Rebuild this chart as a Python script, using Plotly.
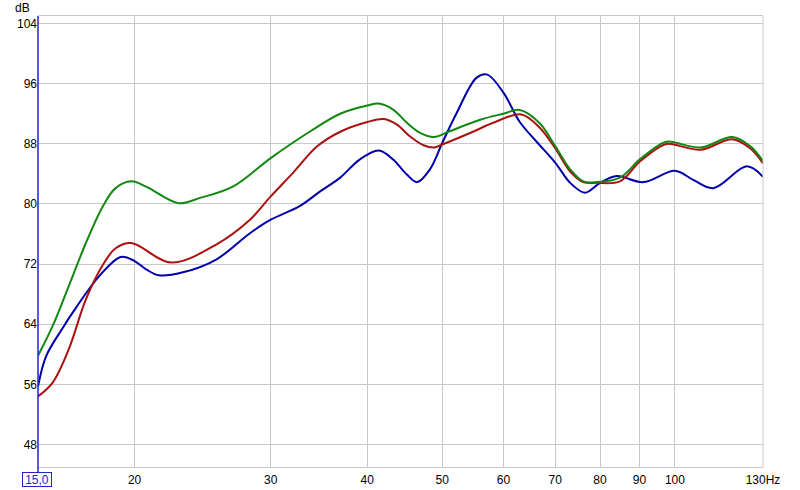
import plotly.graph_objects as go
import math

# ---- data ----
green_f = [15.0, 15.66, 16.43, 17.3, 18.2, 18.9, 19.8, 20.7, 22.8, 24.3, 26.8, 30.0, 33.8,
           36.9, 40.0, 41.4, 43.2, 45.0, 46.8, 48.8, 51.2, 56.0, 60.0, 63.0, 66.9, 70.0, 73.2,
           76.1, 79.2, 84.9, 90.0, 95.6, 98.0, 107.9, 118.6, 125.1, 130.0]
green_db = [59.8, 63.7, 69.0, 74.8, 79.7, 82.1, 83.0, 82.3, 80.1, 80.8, 82.3, 86.1, 89.7,
            92.0, 93.1, 93.35, 92.55, 90.8, 89.45, 88.9, 89.7, 91.2, 92.0, 92.5, 90.7, 87.7, 84.6,
            83.0, 82.9, 83.5, 85.9, 87.9, 88.3, 87.5, 88.9, 87.7, 85.7]

red_f = [15.0, 15.66, 16.43, 17.3, 18.2, 18.9, 19.8, 22.3, 25.5, 28.2, 30.0, 32.1, 34.4,
         36.9, 40.0, 42.0, 43.7, 45.4, 47.3, 48.8, 50.0, 54.8, 58.2, 63.3, 66.9, 70.0, 73.2,
         76.1, 79.2, 84.9, 90.0, 95.6, 98.0, 107.9, 118.6, 125.1, 130.0]
red_db = [54.4, 56.2, 60.6, 67.3, 71.9, 74.1, 74.8, 72.2, 74.6, 77.9, 81.0, 84.2, 87.6,
          89.6, 90.9, 91.3, 90.55, 89.0, 87.8, 87.5, 87.9, 89.6, 90.8, 91.9, 90.1, 87.4, 84.3,
          82.9, 82.8, 83.0, 85.6, 87.6, 88.0, 87.2, 88.6, 87.4, 85.4]

blue_f = [15.0, 15.36, 16.1, 16.8, 18.0, 19.2, 20.0, 20.7, 21.5, 23.1, 25.5, 28.2, 30.0, 32.7,
          34.8, 36.9, 39.1, 41.4, 43.2, 45.0, 46.4, 48.2, 50.0, 52.2, 55.4, 57.2, 60.0, 63.0,
          66.2, 70.0, 73.2, 76.5, 80.0, 84.1, 91.0, 100.0, 105.6, 112.1, 123.9, 130.0]
blue_db = [55.7, 59.7, 63.3, 66.2, 70.4, 72.95, 72.4, 71.3, 70.5, 70.9, 72.6, 76.1, 77.9, 79.7,
           81.7, 83.5, 85.9, 87.1, 85.9, 83.9, 82.9, 84.6, 88.1, 92.1, 96.8, 97.2, 94.8, 90.9,
           88.3, 85.5, 82.8, 81.5, 82.8, 83.7, 82.9, 84.4, 83.2, 82.1, 85.0, 83.6]

x_ticks = [20, 30, 40, 50, 60, 70, 80, 90, 100, 130]
x_tick_text = ["20", "30", "40", "50", "60", "70", "80", "90", "100", "130Hz"]
y_ticks = [48, 56, 64, 72, 80, 88, 96, 104]

fig = go.Figure()
for f, d, c in [(blue_f, blue_db, "#0000aa"), (red_f, red_db, "#aa1111"), (green_f, green_db, "#118811")]:
    fig.add_trace(go.Scatter(x=f, y=d, mode="lines", line=dict(color=c, width=2, shape="spline", smoothing=1.0),
                             hoverinfo="skip", showlegend=False))

plot_h = 451.0
plot_w = 725.0
fig.update_layout(
    width=800, height=490,
    margin=dict(l=38, r=37, t=16, b=23, autoexpand=False),
    paper_bgcolor="white", plot_bgcolor="white",
    font=dict(family="Liberation Sans, Arial, sans-serif", size=12, color="black"),
    xaxis=dict(type="log", range=[math.log10(15), math.log10(130)], automargin=False,
               tickvals=x_ticks, ticktext=x_tick_text, showgrid=True, gridcolor="#c8c8c8", gridwidth=1,
               showline=True, linecolor="#c8c8c8", linewidth=1, mirror=True, zeroline=False,
               ticks="outside", ticklen=2, tickcolor="rgba(0,0,0,0)", tickfont=dict(size=12)),
    yaxis=dict(range=[45, 105], tickvals=y_ticks, showgrid=True, gridcolor="#c8c8c8", gridwidth=1,
               automargin=False, showline=False, zeroline=False, ticks="", tickfont=dict(size=12)),
    shapes=[
        dict(type="line", xref="paper", yref="paper", x0=1, x1=1, y0=0, y1=1,
             line=dict(color="#c8c8c8", width=1)),
        dict(type="line", xref="paper", yref="paper", x0=0, x1=0, y0=-5 / plot_h, y1=1,
             line=dict(color="#2222cc", width=1.5)),
    ],
    annotations=[
        dict(text="dB", xref="paper", yref="paper", x=-16 / plot_w, y=1 + 8 / plot_h,
             xanchor="center", yanchor="middle", showarrow=False, font=dict(size=12)),
        dict(text="15,0", xref="paper", yref="paper", x=-1.5 / plot_w, y=-12.5 / plot_h,
             xanchor="center", yanchor="middle", showarrow=False, font=dict(size=12, color="#2222cc"),
             width=28, height=13, bordercolor="#2222cc", borderwidth=1, borderpad=0, bgcolor="white"),
    ],
)

fig.write_html("out.html", config={"displayModeBar": False},
               post_script="document.body.style.margin='0';document.body.style.overflow='hidden';")
